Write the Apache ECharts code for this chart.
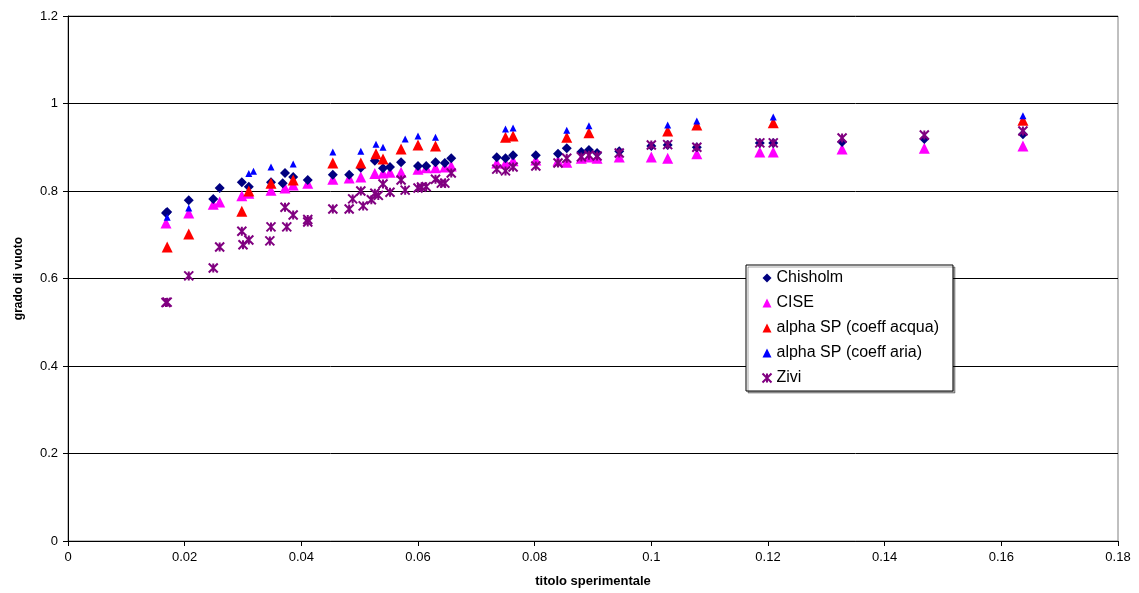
<!DOCTYPE html>
<html><head><meta charset="utf-8">
<script src="https://cdn.jsdelivr.net/npm/echarts@6/dist/echarts.min.js"></script>
<style>html,body{margin:0;padding:0;background:#fff}#c{width:1139px;height:593px}</style>
</head><body><div id="c"></div>
<script>
// x values (titolo sperimentale) and y values (grado di vuoto) per model
const chisholmX = [0.0170,0.0168,0.0207,0.0249,0.0260,0.0298,0.0310,0.0348,0.0372,0.0368,0.0386,0.0411,0.0454,0.0482,0.0502,0.0526,0.0540,0.0552,0.0571,0.0600,0.0614,0.0630,0.0646,0.0657,0.0735,0.0750,0.0763,0.0802,0.0840,0.0855,0.0880,0.0893,0.0907,0.0945,0.1000,0.1028,0.1078,0.1186,0.1209,0.1327,0.1468,0.1637];
const chisholmY = [0.752,0.750,0.779,0.782,0.807,0.820,0.810,0.820,0.841,0.818,0.832,0.825,0.837,0.837,0.853,0.869,0.852,0.855,0.866,0.857,0.857,0.866,0.864,0.875,0.877,0.875,0.882,0.882,0.885,0.898,0.889,0.894,0.887,0.891,0.903,0.905,0.900,0.910,0.910,0.912,0.919,0.930];
const ciseX = [0.0168,0.0207,0.0249,0.0260,0.0298,0.0310,0.0348,0.0372,0.0386,0.0411,0.0454,0.0482,0.0502,0.0526,0.0540,0.0552,0.0571,0.0600,0.0614,0.0630,0.0646,0.0657,0.0735,0.0750,0.0763,0.0802,0.0840,0.0855,0.0880,0.0893,0.0907,0.0945,0.1000,0.1028,0.1078,0.1186,0.1209,0.1327,0.1468,0.1637];
const ciseY = [0.727,0.750,0.770,0.775,0.789,0.795,0.802,0.807,0.814,0.818,0.827,0.830,0.832,0.840,0.841,0.843,0.843,0.850,0.853,0.853,0.855,0.857,0.864,0.864,0.869,0.871,0.869,0.866,0.875,0.878,0.875,0.878,0.878,0.875,0.885,0.889,0.889,0.896,0.898,0.903];
const acquaX = [0.0170,0.0207,0.0298,0.0310,0.0348,0.0386,0.0454,0.0502,0.0528,0.0540,0.0571,0.0600,0.0630,0.0750,0.0763,0.0855,0.0893,0.1028,0.1078,0.1209,0.1637];
const acquaY = [0.672,0.702,0.754,0.800,0.818,0.825,0.864,0.864,0.885,0.873,0.896,0.905,0.903,0.923,0.926,0.923,0.933,0.937,0.951,0.956,0.962];
const ariaX = [0.0170,0.0207,0.0310,0.0318,0.0348,0.0386,0.0454,0.0502,0.0528,0.0540,0.0578,0.0600,0.0630,0.0750,0.0763,0.0855,0.0893,0.1028,0.1078,0.1209,0.1637];
const ariaY = [0.740,0.761,0.840,0.845,0.855,0.862,0.889,0.891,0.907,0.900,0.919,0.926,0.923,0.942,0.944,0.939,0.949,0.951,0.960,0.969,0.972];
const ziviX = [0.0168,0.0170,0.0207,0.0249,0.0260,0.0298,0.0300,0.0310,0.0348,0.0346,0.0372,0.0375,0.0386,0.0411,0.0411,0.0454,0.0482,0.0488,0.0502,0.0506,0.0520,0.0526,0.0532,0.0540,0.0552,0.0571,0.0578,0.0600,0.0606,0.0614,0.0630,0.0640,0.0646,0.0657,0.0735,0.0750,0.0763,0.0802,0.0840,0.0855,0.0880,0.0893,0.0907,0.0945,0.1000,0.1028,0.1078,0.1186,0.1209,0.1327,0.1468,0.1637];
const ziviY = [0.545,0.546,0.606,0.624,0.672,0.708,0.677,0.688,0.718,0.686,0.763,0.718,0.745,0.729,0.735,0.759,0.759,0.782,0.800,0.766,0.780,0.795,0.790,0.816,0.797,0.825,0.802,0.807,0.809,0.810,0.827,0.818,0.818,0.841,0.850,0.846,0.855,0.857,0.864,0.875,0.878,0.882,0.880,0.887,0.905,0.906,0.900,0.910,0.910,0.921,0.928,0.937];
const seriesNames = ['Chisholm','CISE','alpha SP (coeff acqua)','alpha SP (coeff aria)','Zivi'];
const xTicks = [0,0.02,0.04,0.06,0.08,0.1,0.12,0.14,0.16,0.18];
const yTicks = [0,0.2,0.4,0.6,0.8,1,1.2];

const zip = (xs, ys) => xs.map((x, i) => [x, ys[i]]);
const FONT = '"Liberation Sans", Arial, sans-serif';
const starPath = 'path://M0,0L10,10M10,0L0,10M5,0L5,10';

const chart = echarts.init(document.getElementById('c'));
chart.setOption({
  animation: false,
  textStyle: { fontFamily: FONT },
  grid: { left: 68, right: 21, top: 16, bottom: 52, show: true, borderColor: '#808080', borderWidth: 1 },
  xAxis: {
    type: 'value', min: 0, max: 0.18, interval: 0.02,
    name: 'titolo sperimentale', nameLocation: 'middle', nameGap: 34,
    nameTextStyle: { fontFamily: FONT, fontWeight: 'bold', fontSize: 13, color: '#000' },
    axisLine: { show: true, lineStyle: { color: '#000', width: 1 } },
    axisTick: { show: true, inside: false, length: 5, lineStyle: { color: '#000' } },
    axisLabel: { fontFamily: FONT, fontSize: 13, color: '#000', margin: 10,
      formatter: v => String(+v.toFixed(2)) },
    splitLine: { show: false }
  },
  yAxis: {
    type: 'value', min: 0, max: 1.2, interval: 0.2,
    name: 'grado di vuoto', nameLocation: 'middle', nameGap: 43, nameRotate: 90,
    nameTextStyle: { fontFamily: FONT, fontWeight: 'bold', fontSize: 12, color: '#000' },
    axisLine: { show: true, lineStyle: { color: '#000', width: 1 } },
    axisTick: { show: true, inside: false, length: 5, lineStyle: { color: '#000' } },
    axisLabel: { fontFamily: FONT, fontSize: 13, color: '#000', margin: 10,
      formatter: v => String(+v.toFixed(1)) },
    splitLine: { show: true, lineStyle: { color: '#000', width: 1 } }
  },
  legend: {
    orient: 'vertical', left: 746, top: 265,
    data: seriesNames,
    backgroundColor: '#fff', borderColor: '#000', borderWidth: 1,
    shadowColor: 'rgba(0,0,0,0.35)', shadowOffsetX: 2, shadowOffsetY: 2, shadowBlur: 0,
    padding: [5, 14, 5, 14], itemGap: 9, itemWidth: 9, itemHeight: 9,
    textStyle: { fontFamily: FONT, fontSize: 16, lineHeight: 16, color: '#000' }
  },
  series: [
    { name: seriesNames[0], type: 'scatter', data: zip(chisholmX, chisholmY), symbol: 'diamond', symbolSize: 10, itemStyle: { color: '#000080', opacity: 1 }, z: 3 },
    { name: seriesNames[1], type: 'scatter', data: zip(ciseX, ciseY), symbol: 'triangle', symbolSize: 11, itemStyle: { color: '#FF00FF', opacity: 1 }, z: 2 },
    { name: seriesNames[2], type: 'scatter', data: zip(acquaX, acquaY), symbol: 'triangle', symbolSize: 11, itemStyle: { color: '#FF0000', opacity: 1 }, z: 4 },
    { name: seriesNames[3], type: 'scatter', data: zip(ariaX, ariaY), symbol: 'triangle', symbolSize: 7, itemStyle: { color: '#0000FF', opacity: 1 }, z: 5 },
    { name: seriesNames[4], type: 'scatter', data: zip(ziviX, ziviY), symbol: starPath, symbolSize: 9,
      itemStyle: { color: 'none', borderColor: '#800080', borderWidth: 2, opacity: 1 }, z: 6 }
  ]
});
</script></body></html>
